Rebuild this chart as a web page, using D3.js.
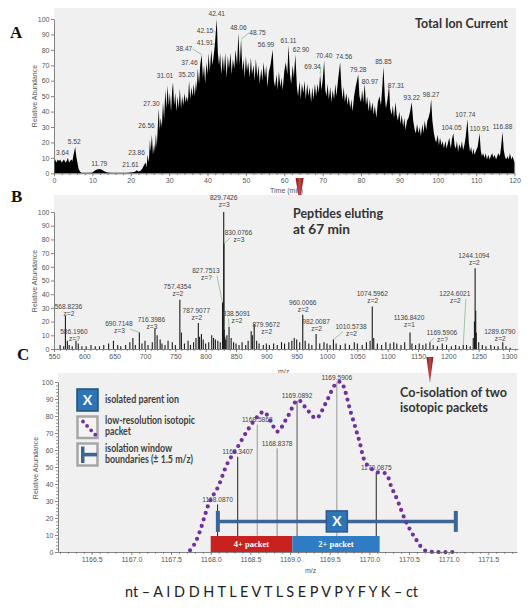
<!DOCTYPE html>
<html><head><meta charset="utf-8">
<script src="https://cdn.jsdelivr.net/npm/d3@7"></script>
<style>
body{margin:0;background:#fff;}
svg{display:block;}
.ax text{font-family:"Liberation Sans",Arial,sans-serif;font-size:7px;fill:#555;}
.ax path,.ax line{stroke:#666;stroke-width:0.8;}
.pk{font-family:"Liberation Sans",Arial,sans-serif;font-size:6.6px;fill:#444;}
.note{font-family:Lato,"Open Sans",sans-serif;font-weight:700;fill:#333;}
.leg{font-family:Lato,"Open Sans",sans-serif;font-weight:700;font-size:10.5px;fill:#404040;}
.title{font-family:"Liberation Sans",Arial,sans-serif;font-size:7px;fill:#555;}
</style></head><body>
<svg id="c" width="530" height="610"></svg>
<script>
// ---------- Panel A: total ion current [time (min), relative abundance] ----------
const ticTrace = [[0,8],[0.3,9],[0.6,7],[1,9],[1.3,8],[1.6,9],[2,7],[2.3,8],[2.6,9],[3,7],[3.3,8],[3.64,10],[3.9,7],[4.2,8],[4.5,9],[4.8,8],[5.1,12],[5.52,17],[5.8,11],[6.1,7],[6.4,3],[6.8,1],[7.2,0.4],[8,0.3],[9,0.3],[10,0.5],[10.5,1.5],[11,2.3],[11.79,2.8],[12.5,2.3],[13,1.5],[13.5,0.8],[14,0.5],[15,0.4],[17,0.3],[19,0.4],[20.5,0.6],[21.2,1.2],[21.61,2],[22,1.2],[22.5,1.5],[23,3],[23.4,5],[23.86,7],[24.1,4],[24.4,12],[24.7,7],[25,22],[25.2,14],[25.5,25],[25.8,12],[26.1,19],[26.3,14],[26.56,26],[26.8,17],[27.05,30],[27.3,42],[27.55,28],[27.8,36],[28.1,30],[28.4,46],[28.7,35],[29,54],[29.3,42],[29.6,57],[29.9,44],[30.2,52],[30.5,40],[30.8,54],[31.01,59],[31.3,44],[31.6,52],[31.9,40],[32.2,50],[32.5,42],[32.8,55],[33.1,42],[33.4,50],[33.7,44],[34,52],[34.3,46],[34.6,50],[34.9,46],[35.2,60],[35.5,48],[35.8,56],[36.1,50],[36.4,58],[36.7,50],[37,60],[37.2,54],[37.46,68],[37.8,58],[38.1,70],[38.47,77],[38.8,62],[39.1,70],[39.4,58],[39.7,72],[40,64],[40.3,78],[40.6,66],[41,80],[41.3,70],[41.6,76],[41.91,83],[42.15,91],[42.41,100],[42.7,78],[43,70],[43.3,78],[43.6,64],[44,76],[44.3,66],[44.6,78],[45,62],[45.3,76],[45.6,68],[46,78],[46.3,64],[46.6,74],[47,68],[47.3,80],[47.7,70],[48.06,91],[48.4,70],[48.75,87],[49.1,66],[49.4,74],[49.7,62],[50,76],[50.3,66],[50.6,72],[51,62],[51.3,75],[51.6,64],[52,70],[52.3,60],[52.6,74],[53,62],[53.3,70],[53.6,58],[54,68],[54.3,60],[54.6,72],[55,62],[55.3,70],[55.6,56],[56,66],[56.4,70],[56.99,80],[57.3,60],[57.6,56],[58,64],[58.3,54],[58.6,66],[59,56],[59.3,62],[59.6,54],[60,66],[60.4,72],[60.8,64],[61.11,83],[61.5,64],[61.8,58],[62.2,70],[62.5,62],[62.9,77],[63.3,56],[63.6,50],[64,60],[64.3,48],[64.6,58],[65,52],[65.3,60],[65.6,48],[66,58],[66.3,50],[66.6,56],[67,46],[67.3,56],[67.6,48],[68,58],[68.3,50],[68.7,58],[69,52],[69.34,64],[69.7,54],[70,60],[70.4,73],[70.7,54],[71,50],[71.3,58],[71.6,48],[72,56],[72.3,46],[72.6,54],[73,48],[73.3,58],[73.6,50],[74,60],[74.56,72],[74.9,56],[75.2,48],[75.5,56],[75.8,46],[76.2,52],[76.5,44],[76.8,50],[77.2,42],[77.5,48],[77.8,40],[78.2,50],[78.6,56],[79.28,64],[79.6,50],[80,46],[80.3,54],[80.6,46],[80.97,58],[81.3,44],[81.6,50],[82,40],[82.3,48],[82.6,40],[83,46],[83.3,38],[83.6,44],[84,36],[84.4,46],[84.8,50],[85.2,44],[85.5,54],[85.85,69],[86.2,50],[86.5,42],[86.9,48],[87.31,57],[87.6,42],[88,38],[88.3,44],[88.6,36],[89,46],[89.3,38],[89.6,34],[90,40],[90.3,32],[90.6,38],[91,30],[91.3,36],[91.6,28],[92,34],[92.4,36],[92.8,40],[93.22,46],[93.6,34],[94,28],[94.3,26],[94.6,32],[95,26],[95.3,30],[95.6,24],[96,32],[96.3,26],[96.6,34],[97,28],[97.3,34],[97.6,36],[98,40],[98.27,48],[98.6,34],[99,26],[99.3,22],[99.6,20],[100,25],[100.3,18],[100.6,23],[101,18],[101.3,21],[101.6,16],[102,21],[102.3,16],[102.6,19],[103,23],[103.4,16],[103.7,22],[104.05,26],[104.4,18],[104.7,16],[105,21],[105.3,14],[105.6,19],[106,16],[106.3,21],[106.6,15],[107,19],[107.3,24],[107.74,35],[108.1,20],[108.4,14],[108.7,17],[109,12],[109.3,16],[109.6,12],[110,15],[110.4,17],[110.91,26],[111.2,15],[111.5,11],[111.8,13],[112.2,10],[112.5,13],[112.8,9],[113.2,12],[113.5,9],[113.8,11],[114.2,13],[114.5,10],[114.8,12],[115.2,9],[115.5,11],[115.8,13],[116.2,11],[116.5,17],[116.88,27],[117.2,15],[117.5,11],[117.8,9],[118.2,11],[118.5,9],[118.8,13],[119.2,9],[119.5,11],[120,7]];
const ticPeakTimes = [3.64,5.52,11.79,21.61,23.86,26.56,27.30,31.01,35.20,37.46,38.47,41.91,42.15,42.41,48.06,48.75,56.99,61.11,62.90,69.34,70.40,74.56,79.28,80.97,85.85,87.31,93.22,98.27,104.05,107.74,110.91,116.88];
const ticXTicks = [0,10,20,30,40,50,60,70,80,90,100,110,120];
const ticYTicks = [0,10,20,30,40,50,60,70,80,90,100];
const elutionMarkerTime = 64;

// ---------- Panel B: MS1 spectrum at 67 min ----------
const msLabeledMz  = [568.8236,586.1960,690.7148,716.3986,757.4354,787.9077,827.7513,829.7426,830.0766,838.5091,879.9672,960.0066,982.0087,1010.5738,1074.5962,1136.8420,1169.5906,1224.6021,1244.1094,1289.6790];
const msLabeledInt = [24,6,12,15,36,19,34,100,77,16,18,25,11,7,31,12,5,3,59,5];
const msLabeledZ   = ["z=2","z=?","z=3","z=3","z=2","z=2","z=?","z=3","z=3","z=2","z=2","z=2","z=2","z=2","z=2","z=1","z=?","z=2","z=2","z=2"];
const msOtherMz  = [560,566,572,575,580,590,596,603,611,618,625,632,640,648,655,660,668,675,680,684,695,700,705,712,720,725,728,733,738,745,750,760,765,771,775,780,784,790,793,796,800,805,810,813,816,820,824,828.4,830.4,831.5,833,835,842,846,850,855,860,866,870,875,877,884,888,895,900,905,912,918,925,930,937,942,946,950,955,964,970,975,988,995,1000,1005,1015,1022,1030,1037,1045,1050,1058,1065,1071,1077,1083,1090,1097,1104,1110,1115,1122,1128,1140,1146,1152,1158,1163,1175,1182,1190,1197,1205,1212,1218,1230,1236,1241,1243,1245.1,1246,1250,1256,1262,1270,1276,1282,1295,1302];
const msOtherInt = [3,2,6,3,2,4,2,2,3,2,2,3,4,6,3,2,3,5,8,3,4,6,3,5,10,7,4,3,6,5,3,12,4,6,3,5,8,9,11,7,4,5,10,8,7,6,5,12,14,9,7,10,8,5,4,3,5,3,6,13,10,6,4,3,4,3,4,3,5,4,5,6,8,7,5,6,4,3,4,5,4,3,4,3,4,3,5,4,3,5,6,8,4,3,5,4,5,4,3,5,4,3,4,3,4,3,2,4,3,2,3,2,3,2,8,20,28,12,5,3,2,3,2,2,2,1];
const msXTicks = [550,600,650,700,750,800,850,900,950,1000,1050,1100,1150,1200,1250,1300];
const msYTicks = [0,10,20,30,40,50,60,70,80,90,100];
const coIsolationMz = 1169.5906;

// ---------- Panel C: zoom on isolation window ----------
const isoPeakMz  = [1168.0870,1168.3407,1168.5868,1168.8378,1169.0892,1169.5906,1170.0875];
const isoPeakInt = [28,56,75,61,89,100,47];
const envelopeMz  = [1167.74,1167.80,1167.87,1167.93,1167.99,1168.09,1168.21,1168.33,1168.47,1168.59,1168.67,1168.76,1168.84,1168.97,1169.10,1169.22,1169.33,1169.45,1169.58,1169.64,1169.77,1169.87,1169.96,1170.10,1170.21,1170.28,1170.35,1170.46,1170.58,1170.70,1170.85,1171.05];
const envelopeInt = [1,5,13,22,30,38,52,61,72,79.6,82.5,76.6,70.8,79.6,89.4,83.5,78.6,87.5,99,100,81.6,66,52,47,46,38,31,18,8,1,0,0];
const isoCenter = 1169.5906, isoHalfWidth = 1.5, isoLevel = 18;
const packetNames = ["4+ packet","2+ packet"];
const packetStart = [1168.00,1169.03];
const packetEnd   = [1169.03,1170.13];
const packetHeight = 9.4;
const isoXTicks = [1166.5,1167.0,1167.5,1168.0,1168.5,1169.0,1169.5,1170.0,1170.5,1171.0,1171.5];
const isoYTicks = [0,10,20,30,40,50,60,70,80,90,100];
const sequence = "nt – A I D D H T L E V T L S E P V P Y F Y K – ct";

// ---------- layout / style (not data) ----------
const ticLabelShift = {3.64:[-5.5,-4.9],5.52:[-1,-5.4],21.61:[-6.4,-5.2],23.86:[-9,-9.5],26.56:[-9.4,-7.2],27.30:[-7.3,-4.5],31.01:[-8,-6.3],35.20:[-2.6,-5.7],37.46:[-8.3,-5.4],38.47:[-17.6,-5.5,1],41.91:[-9.8,-2.2,1],42.15:[-10.7,-1.9,1],48.75:[16.4,-6.1,1],56.99:[-6.7,-4.9],62.90:[5.6,-4.5],69.34:[-7.6,-7.5,1],74.56:[3.9,-5.2],80.97:[5.3,-1.8,1],87.31:[7,0,1],104.05:[-1.8,-5.2],107.74:[-2,-4.3]};
const msLabelShift = [[3,-9.4],[-2,-9],[-20.4,-8.6,1],[-3.5,-8.5],[-2.5,-12.7],[-2,-12.3],[-16.6,-31.7,1],[0,-14],[14.5,-10.8,1],[7.5,-13.8,1],[12,0.7],[0,-12],[0,-12.2],[17.6,-12.7,1],[0,-12.5],[-1,-15],[12,-9,1],[-8.4,-51,1],[-1.3,-12.2],[-3,-10.5]];
const isoStickColor = ["#222","#222","#999","#8a8a8a","#555","#999","#222"];

const svg = d3.select("#c");
const defs = svg.append("defs");
const grad = defs.append("linearGradient").attr("id","redMark").attr("x1",0).attr("x2",1).attr("y1",0).attr("y2",0);
grad.append("stop").attr("offset",0).attr("stop-color","#7a1414");
grad.append("stop").attr("offset",0.5).attr("stop-color","#c84848");
grad.append("stop").attr("offset",1).attr("stop-color","#7a1414");

function bottomAxis(scale, y, major, minor, fmt){
  svg.append("g").attr("class","ax").attr("transform",`translate(0,${y})`)
    .call(d3.axisBottom(scale).tickValues(major).tickSize(3).tickSizeOuter(0).tickPadding(2).tickFormat(fmt));
  const m = svg.append("g").attr("class","ax").attr("transform",`translate(0,${y})`)
    .call(d3.axisBottom(scale).tickValues(minor).tickSize(1.8).tickFormat(""));
  m.select(".domain").remove();
}
function leftAxis(scale, x, major, minor){
  svg.append("g").attr("class","ax").attr("transform",`translate(${x},0)`)
    .call(d3.axisLeft(scale).tickValues(major).tickSize(3).tickSizeOuter(0).tickPadding(1.5).tickFormat(d3.format("d")));
  if(minor){
    const m = svg.append("g").attr("class","ax").attr("transform",`translate(${x},0)`)
      .call(d3.axisLeft(scale).tickValues(minor).tickSize(1.8).tickFormat(""));
    m.select(".domain").remove();
  }
}
function yTitle(x, y){
  svg.append("text").attr("class","title").attr("transform",`translate(${x},${y}) rotate(-90)`)
    .attr("text-anchor","middle").text("Relative Abundance");
}
function panelLetter(t, x, y){
  svg.append("text").attr("x",x).attr("y",y).text(t)
    .style("font-family","'Liberation Serif','Times New Roman',serif").style("font-weight","700").style("font-size","17px").style("fill","#111");
}
function marker(x, yTop, yTip, w){
  svg.append("path").attr("d",`M${x-w/2},${yTop}L${x+w/2},${yTop}L${x},${yTip}Z`).attr("fill","url(#redMark)");
}

// ================= Panel A =================
const xA = d3.scaleLinear().domain([0,120]).range([54,514.5]);
const yA = d3.scaleLinear().domain([0,100]).range([173.3,19]);
svg.append("rect").attr("x",54).attr("y",8).attr("width",462).attr("height",165.3).attr("fill","#f0f0f0");
svg.append("path").datum(ticTrace).attr("fill","#000")
  .attr("d", d3.area().x(d=>xA(d[0])).y0(yA(0)).y1(d=>yA(d[1])));
const ticMap = new Map(ticTrace.map(d=>[d[0],d[1]]));
ticPeakTimes.forEach(t=>{
  const v = ticMap.get(t);
  const px = xA(t), py = yA(v);
  const s = ticLabelShift[t] || [0,-5];
  const cx = px + s[0], cy = py + s[1];
  if(s[2]){
    const lx = s[0] < 0 ? cx + 8.5 : cx - 8.5;
    svg.append("path").attr("d",`M${lx},${cy}L${px},${py}`).attr("stroke","#6aa86a").attr("stroke-width",0.6).attr("fill","none");
  }
  svg.append("text").attr("class","pk").attr("x",cx).attr("y",cy+2.4).attr("text-anchor","middle").text(t.toFixed(2));
});
bottomAxis(xA, 173.3, ticXTicks, d3.range(0,121,2).filter(d=>d%10), d3.format("d"));
leftAxis(yA, 54, ticYTicks, null);
yTitle(37, 96);
svg.append("text").attr("class","title").attr("x",270).attr("y",193).text("Time (min)");
svg.append("text").attr("class","note").attr("x",415).attr("y",27.5).attr("font-size",13)
  .attr("textLength",93).attr("lengthAdjust","spacingAndGlyphs").text("Total Ion Current");
marker(xA(elutionMarkerTime), 178, 204, 8);
panelLetter("A", 10, 38);

// ================= Panel B =================
const xB = d3.scaleLinear().domain([550,1314.8]).range([54,518]);
const yB = d3.scaleLinear().domain([0,100]).range([349,212]);
svg.append("rect").attr("x",54).attr("y",195).attr("width",464).attr("height",154).attr("fill","#f0f0f0");
const otherSticks = msOtherMz.map((m,i)=>[m,msOtherInt[i]]);
const labeledSticks = msLabeledMz.map((m,i)=>[m,msLabeledInt[i],msLabeledZ[i],i]);
svg.append("g").selectAll("line").data(otherSticks.concat(labeledSticks)).join("line")
  .attr("x1",d=>xB(d[0])).attr("x2",d=>xB(d[0])).attr("y1",yB(0)).attr("y2",d=>yB(d[1]))
  .attr("stroke","#1a1a1a").attr("stroke-width",1.1);
labeledSticks.forEach(d=>{
  const px = xB(d[0]), py = yB(d[1]);
  const s = msLabelShift[d[3]];
  const cx = px + s[0], cy = py + s[1];
  if(s[2]){
    const lx = s[0] < 0 ? cx + 11 : cx - 8;
    svg.append("path").attr("d",`M${lx},${cy+5}L${px},${py}`).attr("stroke","#6aa86a").attr("stroke-width",0.6).attr("fill","none");
  }
  svg.append("text").attr("class","pk").attr("x",cx).attr("y",cy+2.3).attr("text-anchor","middle").text(d[0].toFixed(4));
  svg.append("text").attr("class","pk").attr("x",cx+0.5).attr("y",cy+9.3).attr("text-anchor","middle").text(d[2]);
});
bottomAxis(xB, 349, msXTicks, d3.range(560,1311,10).filter(d=>d%50), d3.format("d"));
leftAxis(yB, 54, msYTicks, null);
yTitle(37, 281);
svg.append("text").attr("class","title").attr("x",278).attr("y",374).text("m/z");
svg.append("text").attr("class","note").attr("x",293).attr("y",217.5).attr("font-size",13)
  .attr("textLength",90).attr("lengthAdjust","spacingAndGlyphs").text("Peptides eluting");
svg.append("text").attr("class","note").attr("x",293).attr("y",233.5).attr("font-size",13)
  .attr("textLength",57).attr("lengthAdjust","spacingAndGlyphs").text("at 67 min");
panelLetter("B", 11, 202);

// ================= Panel C =================
const xC = d3.scaleLinear().domain([1166.075,1171.862]).range([58,517]);
const yC = d3.scaleLinear().domain([0,100]).range([552,382]);
svg.append("rect").attr("x",58).attr("y",373).attr("width",459).attr("height",179).attr("fill","#f0f0f0");
// sticks
const isoSticks = isoPeakMz.map((m,i)=>[m,isoPeakInt[i],i]);
svg.append("g").selectAll("line").data(isoSticks).join("line")
  .attr("x1",d=>xC(d[0])).attr("x2",d=>xC(d[0])).attr("y1",yC(0)).attr("y2",d=>yC(d[1]))
  .attr("stroke",d=>isoStickColor[d[2]]).attr("stroke-width",1);
svg.append("g").selectAll("text").data(isoSticks).join("text").attr("class","pk")
  .attr("x",d=>xC(d[0])).attr("y",d=>yC(d[1])-2.5).attr("text-anchor","middle").text(d=>d[0].toFixed(4));
// packets
packetNames.forEach((n,i)=>{
  const x0 = xC(packetStart[i]), x1 = xC(packetEnd[i]);
  svg.append("rect").attr("x",x0).attr("y",yC(packetHeight)).attr("width",x1-x0).attr("height",yC(0)-yC(packetHeight))
    .attr("fill", i===0 ? "#c92020" : "#2f7cc4");
  svg.append("text").attr("x",(x0+x1)/2).attr("y",(yC(packetHeight)+yC(0))/2+3).attr("text-anchor","middle")
    .style("font-family","'Liberation Serif',serif").style("font-weight","700").style("font-size","8.5px").style("fill","#fff").text(n);
});
// isolation window
const iy = yC(isoLevel);
svg.append("line").attr("x1",xC(isoCenter-isoHalfWidth)).attr("x2",xC(isoCenter+isoHalfWidth)).attr("y1",iy).attr("y2",iy)
  .attr("stroke","#3c6595").attr("stroke-width",3.5);
[isoCenter-isoHalfWidth, isoCenter+isoHalfWidth].forEach(m=>{
  svg.append("rect").attr("x",xC(m)-2).attr("y",iy-10.5).attr("width",4).attr("height",21).attr("fill","#3c6595");
});
svg.append("rect").attr("x",xC(isoCenter)-10.5).attr("y",iy-10.5).attr("width",21).attr("height",21)
  .attr("fill","#2e75b6").attr("stroke","#2f5597").attr("stroke-width",1.5);
svg.append("text").attr("x",xC(isoCenter)).attr("y",iy+5).attr("text-anchor","middle")
  .style("font-family","Lato,sans-serif").style("font-weight","700").style("font-size","14px").style("fill","#fff").text("X");
// dotted envelope
const env = envelopeMz.map((m,i)=>[m,envelopeInt[i]]);
svg.append("path").datum(env).attr("fill","none").attr("stroke","#7030a0").attr("stroke-width",4.2)
  .attr("stroke-linecap","round").attr("stroke-dasharray","0,6.8")
  .attr("d", d3.line().x(d=>xC(d[0])).y(d=>yC(d[1])).curve(d3.curveCatmullRom.alpha(0.5)));
bottomAxis(xC, 552, isoXTicks, d3.range(11661,11719).map(d=>d/10).filter(d=>Math.round(d*10)%5 && d>1166.08 && d<1171.86), d3.format(".1f"));
leftAxis(yC, 58, isoYTicks, d3.range(2,100,2).filter(d=>d%10));
yTitle(38, 468);
svg.append("text").attr("class","title").attr("x",305).attr("y",573).text("m/z");
// legend
const lg = svg.append("g");
lg.append("rect").attr("x",77).attr("y",389).attr("width",21).attr("height",22).attr("fill","#2e75b6").attr("stroke","#1f4e79").attr("stroke-width",1.5);
lg.append("text").attr("x",87.5).attr("y",405).attr("text-anchor","middle")
  .style("font-family","Lato,sans-serif").style("font-weight","700").style("font-size","14px").style("fill","#fff").text("X");
lg.append("rect").attr("x",77.5).attr("y",416.5).attr("width",20).attr("height",21.5).attr("fill","#f4f4f4").attr("stroke","#a6a6a6").attr("stroke-width",2.5);
lg.append("path").attr("d","M83,421.5L96,435.5").attr("stroke","#7030a0").attr("stroke-width",3.8).attr("stroke-linecap","round").attr("stroke-dasharray","0,6").attr("fill","none");
lg.append("rect").attr("x",77.5).attr("y",443.5).attr("width",20).attr("height",22).attr("fill","#f4f4f4").attr("stroke","#a6a6a6").attr("stroke-width",2.5);
lg.append("rect").attr("x",81).attr("y",446.5).attr("width",3.5).attr("height",16.5).attr("fill","#3c6595");
lg.append("rect").attr("x",84).attr("y",452.8).attr("width",13).attr("height",3.6).attr("fill","#3c6595");
[["isolated parent ion",403,74],["low-resolution isotopic",423.5,90],["packet",434.5,26],["isolation window",451.5,67],["boundaries (± 1.5 m/z)",462.5,88]]
  .forEach(r=>lg.append("text").attr("class","leg").attr("x",105).attr("y",r[1]).attr("textLength",r[2]).attr("lengthAdjust","spacingAndGlyphs").text(r[0]));
svg.append("text").attr("class","note").attr("x",400).attr("y",397).attr("font-size",12.5)
  .attr("textLength",107).attr("lengthAdjust","spacingAndGlyphs").text("Co-isolation of two");
svg.append("text").attr("class","note").attr("x",400).attr("y",412).attr("font-size",12.5)
  .attr("textLength",88).attr("lengthAdjust","spacingAndGlyphs").text("isotopic packets");
marker(xB(coIsolationMz), 357, 383, 7);
panelLetter("C", 17, 360);
svg.append("text").attr("x",125).attr("y",597).attr("textLength",293).attr("lengthAdjust","spacingAndGlyphs")
  .style("font-family","Lato,'Open Sans',sans-serif").style("font-size","16px").style("fill","#222").text(sequence);
</script>
</body></html>
